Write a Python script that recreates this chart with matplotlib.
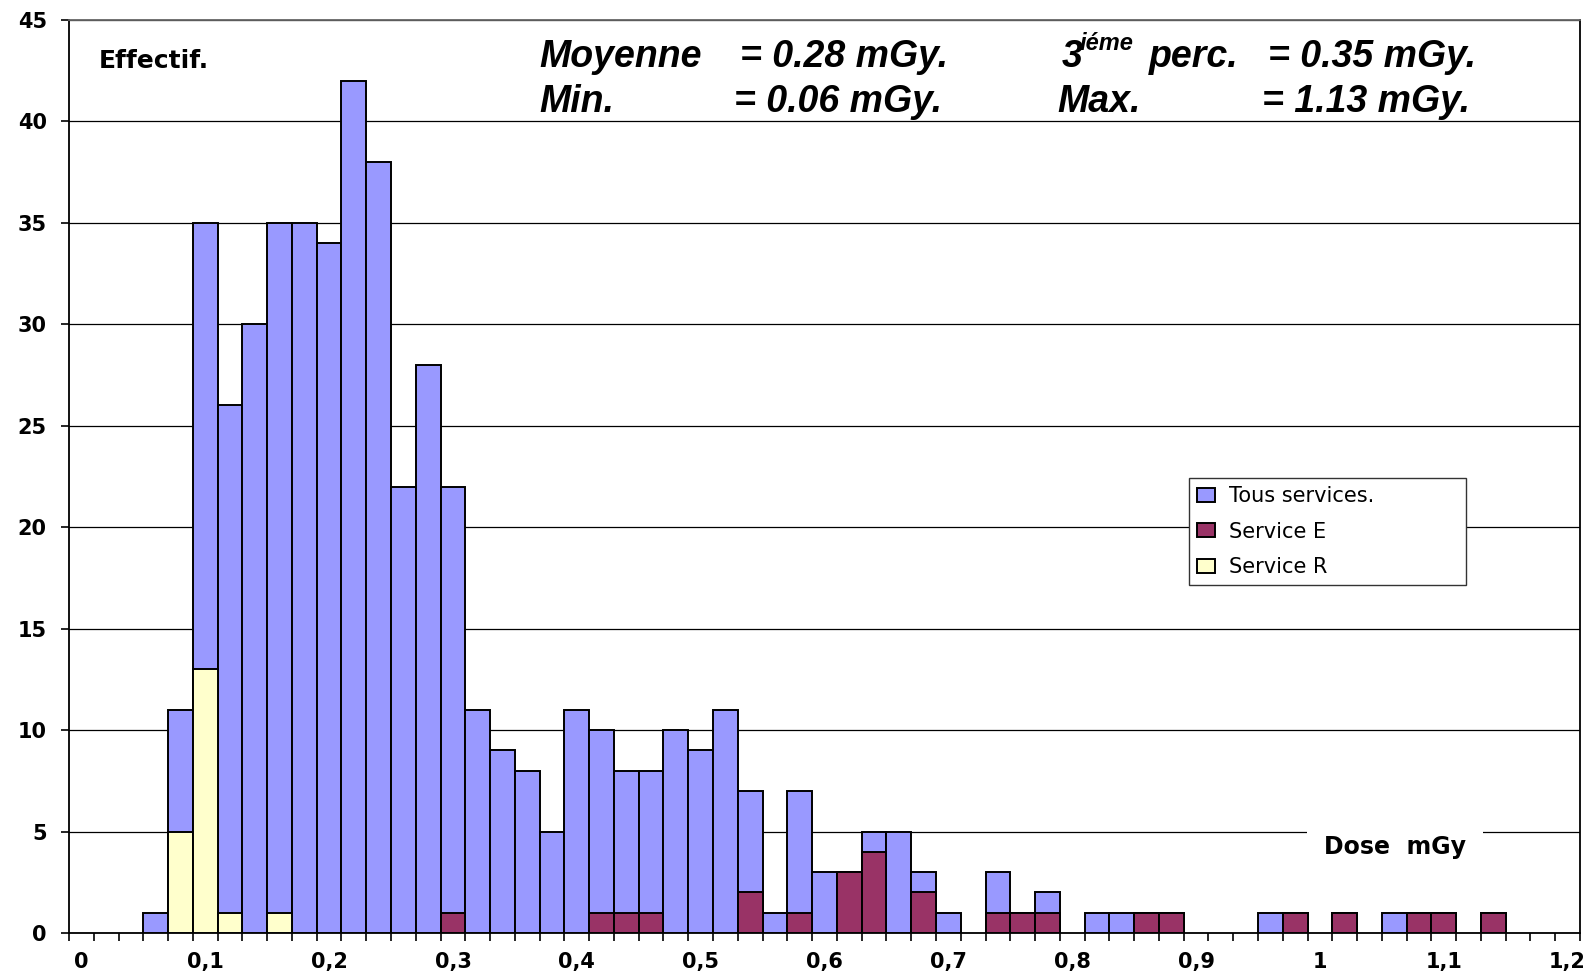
import matplotlib
matplotlib.use("Agg")
import matplotlib.pyplot as plt
from matplotlib.patches import Patch
import numpy as np

# histogramme des doses, classes de 0,02 mGy (centre de classe)
classes = np.round(np.arange(61) * 0.02, 2)

tous = [0, 0, 0, 1, 11, 35, 26, 30, 35, 35,
        34, 42, 38, 22, 28, 22, 11, 9, 8, 5,
        11, 10, 8, 8, 10, 9, 11, 7, 1, 7,
        3, 3, 5, 5, 3, 1, 0, 3, 1, 2,
        0, 1, 1, 1, 1, 0, 0, 0, 1, 1,
        0, 1, 0, 1, 1, 1, 0, 1, 0, 0, 0]

service_e = [0, 0, 0, 0, 0, 0, 0, 0, 0, 0,
             0, 0, 0, 0, 0, 1, 0, 0, 0, 0,
             0, 1, 1, 1, 0, 0, 0, 2, 0, 1,
             0, 3, 4, 0, 2, 0, 0, 1, 1, 1,
             0, 0, 0, 1, 1, 0, 0, 0, 0, 1,
             0, 1, 0, 0, 1, 1, 0, 1, 0, 0, 0]

service_r = [0, 0, 0, 0, 5, 13, 1, 0, 1, 0,
             0, 0, 0, 0, 0, 0, 0, 0, 0, 0,
             0, 0, 0, 0, 0, 0, 0, 0, 0, 0,
             0, 0, 0, 0, 0, 0, 0, 0, 0, 0,
             0, 0, 0, 0, 0, 0, 0, 0, 0, 0,
             0, 0, 0, 0, 0, 0, 0, 0, 0, 0, 0]

xticks = [0, 0.1, 0.2, 0.3, 0.4, 0.5, 0.6, 0.7, 0.8, 0.9, 1.0, 1.1, 1.2]
xlabels = ["0", "0,1", "0,2", "0,3", "0,4", "0,5", "0,6", "0,7", "0,8", "0,9", "1", "1,1", "1,2"]
yticks = list(range(0, 46, 5))

couleurs = {"Tous services.": "#9999FF", "Service E": "#993366", "Service R": "#FFFFCC"}

W, H = 1594, 973
fig = plt.figure(figsize=(W / 100, H / 100), dpi=100)
ax = fig.add_axes([69 / W, 1 - 933 / H, (1580 - 69) / W, (933 - 20) / H])

sans = ["Liberation Sans", "DejaVu Sans"]
large = ["DejaVu Sans"]  # police plus large, proche du rendu Excel

bw = 0.02
for serie, nom, z in [(tous, "Tous services.", 3), (service_e, "Service E", 4), (service_r, "Service R", 4)]:
    v = np.array(serie)
    m = v > 0  # les classes vides n'ont pas de contour
    ax.bar(classes[m], v[m], width=bw, color=couleurs[nom], edgecolor="black",
           linewidth=1.4, zorder=z)

ax.set_xlim(-0.01, 1.21)
ax.set_ylim(0, 45)

ax.set_yticks(yticks)
ax.set_yticklabels([str(v) for v in yticks], fontfamily=large, fontweight="bold", fontsize=15)
ax.tick_params(axis="y", direction="out", length=6, width=1.2, pad=10)
ax.yaxis.grid(True, color="black", linewidth=0.9, zorder=0)
ax.set_axisbelow(True)

ax.set_xticks(xticks)
ax.set_xticklabels(xlabels, fontfamily=large, fontweight="bold", fontsize=15)
ax.set_xticks(np.arange(62) * 0.02 - 0.01, minor=True)
ax.tick_params(axis="x", which="major", length=0, pad=14)
ax.tick_params(axis="x", which="minor", direction="out", length=6, width=1.2)

for s in ["left", "bottom", "right"]:
    ax.spines[s].set_linewidth(1.3)
    ax.spines[s].set_color("black")
ax.spines["top"].set_color("#666666")
ax.spines["top"].set_linewidth(1.3)

fig.text(99 / W, 1 - 68 / H, "Effectif.", fontfamily=large, fontweight="bold",
         fontsize=18, va="baseline", ha="left")

stat = dict(fontfamily=sans, fontweight="bold", fontstyle="italic", fontsize=27,
            va="baseline", ha="left")
fig.text(539 / W, 1 - 67 / H, "Moyenne", **stat)
fig.text(740 / W, 1 - 67 / H, "= 0.28 mGy.", **stat)
fig.text(1062 / W, 1 - 67 / H, "3", **stat)
fig.text(1080 / W, 1 - 50 / H, "iéme", **dict(stat, fontsize=17))
fig.text(1149 / W, 1 - 67 / H, "perc.", **stat)
fig.text(1268 / W, 1 - 67 / H, "= 0.35 mGy.", **stat)
fig.text(539 / W, 1 - 112 / H, "Min.", **stat)
fig.text(734 / W, 1 - 112 / H, "= 0.06 mGy.", **stat)
fig.text(1057 / W, 1 - 112 / H, "Max.", **stat)
fig.text(1262 / W, 1 - 112 / H, "= 1.13 mGy.", **stat)

fig.text(1395 / W, 1 - 847 / H, "Dose  mGy", fontfamily=large, fontweight="bold",
         fontsize=17, va="center", ha="center",
         bbox=dict(facecolor="white", edgecolor="none", pad=12))

poignees = [Patch(facecolor=c, edgecolor="black", linewidth=1.4, label=n)
            for n, c in couleurs.items()]
leg = ax.legend(handles=poignees, loc="upper left", mode="expand",
                bbox_to_anchor=(1189 / W, 1 - 585 / H, (1466 - 1189) / W, (585 - 478) / H),
                bbox_transform=fig.transFigure, frameon=True, fancybox=False,
                edgecolor="#333333", framealpha=1, prop=dict(family=large, size=15),
                handlelength=0.85, handleheight=0.65, handletextpad=0.65,
                labelspacing=0.74, borderpad=0.4, borderaxespad=0)
leg.get_frame().set_linewidth(1.0)

fig.savefig("out.png", dpi=100)
